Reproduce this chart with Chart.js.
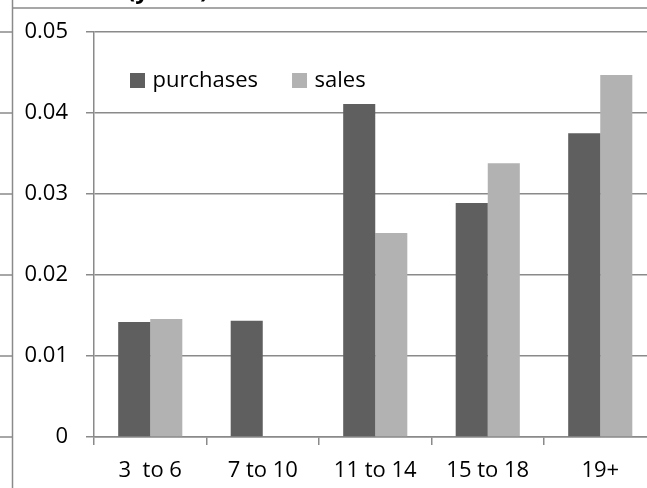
<!DOCTYPE html>
<html lang="en">
<head>
    <meta charset="UTF-8">
    <title>purchases vs sales</title>
    <script src="https://cdn.jsdelivr.net/npm/chart.js"></script>
    <style>
        html, body {
            margin: 0;
            padding: 0;
            background: #fff;
            overflow: hidden;
        }
        #wrap {
            width: 657px;
            height: 488px;
        }
    </style>
</head>
<body>
    <div id="wrap">
        <canvas id="barChart" width="657" height="488"></canvas>
    </div>

    <script>
        // data
        const categories = ['3  to 6', '7 to 10', '11 to 14', '15 to 18', '19+'];
        const purchases = [0.0142, 0.01435, 0.0411, 0.0289, 0.0375];
        const sales = [0.01457, null, 0.0252, 0.0338, 0.0447];
        const yTicks = [0, 0.01, 0.02, 0.03, 0.04, 0.05];

        const lineColor = '#8a8a8a';
        Chart.defaults.font.family = "'Open Sans', sans-serif";
        Chart.defaults.font.size = 22;
        Chart.defaults.color = '#000';

        // sheet frame, cut title and legend
        const extras = {
            id: 'extras',
            beforeDraw(chart) {
                const ctx = chart.ctx;
                const y = chart.scales.y;
                ctx.save();
                ctx.strokeStyle = lineColor;
                ctx.lineWidth = 1.5;
                ctx.beginPath();
                ctx.moveTo(12.5, 0);
                ctx.lineTo(12.5, 488);
                ctx.moveTo(12.5, 8);
                ctx.lineTo(657, 8);
                yTicks.forEach(v => {
                    const py = y.getPixelForValue(v);
                    ctx.moveTo(0, py);
                    ctx.lineTo(12.5, py);
                });
                ctx.stroke();

                ctx.fillStyle = '#000';
                ctx.font = "bold 24px 'Open Sans', sans-serif";
                ctx.textBaseline = 'alphabetic';
                ctx.fillText('(years)', 127, -2);
                ctx.restore();
            },
            afterDraw(chart) {
                const ctx = chart.ctx;
                ctx.save();
                ctx.font = "22px 'Open Sans', sans-serif";
                ctx.textBaseline = 'middle';
                let x = 130;
                const top = 73;
                chart.data.datasets.forEach(ds => {
                    ctx.fillStyle = ds.backgroundColor;
                    ctx.fillRect(x, top, 15, 15);
                    ctx.fillStyle = '#000';
                    ctx.fillText(ds.label, x + 22.5, top + 7.5);
                    x += 22.5 + ctx.measureText(ds.label).width + 34;
                });
                ctx.restore();
            }
        };

        const ctx = document.getElementById('barChart').getContext('2d');
        new Chart(ctx, {
            type: 'bar',
            data: {
                labels: categories,
                datasets: [{
                    label: 'purchases',
                    data: purchases,
                    backgroundColor: '#5f5f5f',
                    barPercentage: 1,
                    categoryPercentage: 0.57
                }, {
                    label: 'sales',
                    data: sales,
                    backgroundColor: '#b2b2b2',
                    barPercentage: 1,
                    categoryPercentage: 0.57
                }]
            },
            options: {
                responsive: false,
                animation: false,
                events: [],
                layout: {
                    padding: { top: 32, right: 0.5, left: 0, bottom: 0 }
                },
                plugins: {
                    legend: { display: false },
                    tooltip: { enabled: false }
                },
                scales: {
                    x: {
                        afterFit(scale) { scale.height = 51; },
                        grid: {
                            drawOnChartArea: false,
                            drawTicks: true,
                            tickLength: 8,
                            color: lineColor,
                            lineWidth: 1.5
                        },
                        border: { color: lineColor, width: 1.5 },
                        ticks: { padding: 13, maxRotation: 0 }
                    },
                    y: {
                        min: 0,
                        max: 0.05,
                        afterFit(scale) { scale.width = 94; },
                        afterBuildTicks(scale) {
                            scale.ticks = yTicks.map(v => ({ value: v }));
                        },
                        grid: {
                            color: lineColor,
                            lineWidth: 1.5,
                            tickLength: 8
                        },
                        border: { color: lineColor, width: 1.5 },
                        ticks: {
                            padding: 18,
                            callback: v => v === 0 ? '0' : v.toFixed(2)
                        }
                    }
                }
            },
            plugins: [extras]
        });
    </script>
</body>
</html>
